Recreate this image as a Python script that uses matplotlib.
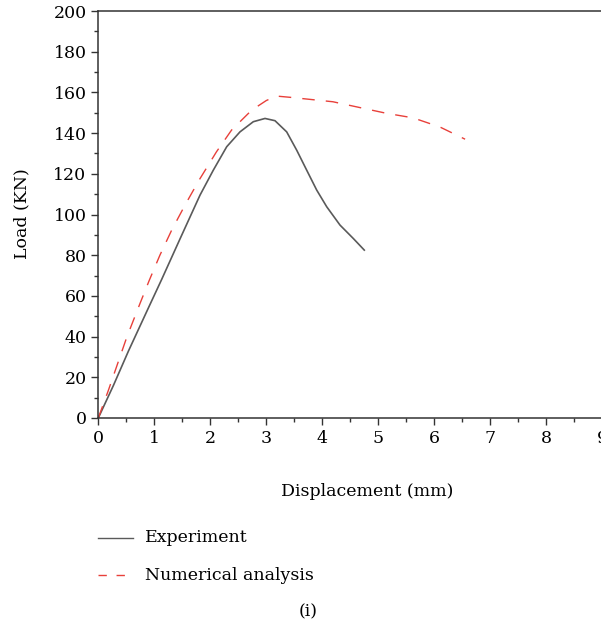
import matplotlib
matplotlib.use("Agg")
import matplotlib.pyplot as plt
from matplotlib.ticker import MultipleLocator
from matplotlib.lines import Line2D

plt.rcParams['font.family'] = ['DejaVu Serif']

# Experiment (solid gray)
exp_x = [0.0, 0.27, 0.54, 0.893, 1.13, 1.459, 1.816, 2.054, 2.293, 2.53, 2.768, 2.977,
         3.155, 3.364, 3.543, 3.721, 3.9, 4.079, 4.316, 4.554, 4.75]
exp_y = [0.0, 16.0, 33.0, 54.0, 68.0, 88.0, 109.5, 121.8, 133.3, 140.6, 145.6, 147.2,
         146.1, 140.6, 131.6, 121.8, 112.0, 103.8, 94.8, 88.2, 82.5]

# Numerical analysis (red dashed)
num_x = [0.0, 0.18, 0.51, 0.745, 0.911, 1.1, 1.31, 1.548, 1.80, 2.11, 2.38, 2.74, 3.0,
         3.18, 3.42, 4.19, 5.15, 5.62, 6.1, 6.55]
num_y = [0.0, 13.6, 39.8, 56.3, 67.7, 80.0, 92.3, 104.6, 116.9, 130.8, 141.5, 151.3, 156.0,
         158.2, 157.6, 155.4, 149.7, 147.5, 143.0, 137.0]

series_labels = ["Experiment", "Numerical analysis"]
x_label = "Displacement (mm)"
y_label = "Load (KN)"
panel_label = "(i)"

W, H = 601, 630
fig = plt.figure(figsize=(W / 100, H / 100), dpi=100)
ax = fig.add_axes([98.3 / W, 1 - 418 / H, 504 / W, 407 / H])

gray = "#5a5a5a"
red = "#e8403a"
ax.plot(exp_x, exp_y, color=gray, lw=1.2)
ax.plot(num_x, num_y, color=red, lw=1.0, dashes=(9, 8))

ax.set_xlim(0, 9)
ax.set_ylim(0, 200)
ax.xaxis.set_major_locator(MultipleLocator(1))
ax.xaxis.set_minor_locator(MultipleLocator(0.5))
ax.yaxis.set_major_locator(MultipleLocator(20))
ax.yaxis.set_minor_locator(MultipleLocator(10))

spc = "#333333"
for s in ['left', 'bottom', 'top', 'right']:
    ax.spines[s].set_color(spc)
    ax.spines[s].set_linewidth(1.1)
ax.tick_params(which='major', direction='out', length=5, width=1, color=spc,
               labelsize=12.5, pad=3.5)
ax.tick_params(which='minor', direction='out', length=3, width=1, color=spc)
ax.tick_params(top=False, right=False)

fs = 12.5
fig.text(367 / W, 1 - 492 / H, x_label, ha='center', va='center', fontsize=fs)
fig.text(22 / W, 1 - 214 / H, y_label, ha='center', va='center', rotation=90, fontsize=fs)

# legend drawn manually below the axes
fig.add_artist(Line2D([98 / W, 133 / W], [1 - 538 / H, 1 - 538 / H], color=gray, lw=1.0))
fig.add_artist(Line2D([98 / W, 133 / W], [1 - 575 / H, 1 - 575 / H], color=red, lw=1.0, dashes=(6, 7)))
fig.text(145 / W, 1 - 538 / H, series_labels[0], ha='left', va='center', fontsize=fs)
fig.text(145 / W, 1 - 575 / H, series_labels[1], ha='left', va='center', fontsize=fs)
fig.text(308 / W, 1 - 612 / H, panel_label, ha='center', va='center', fontsize=fs)

fig.savefig("out.png", dpi=100)
